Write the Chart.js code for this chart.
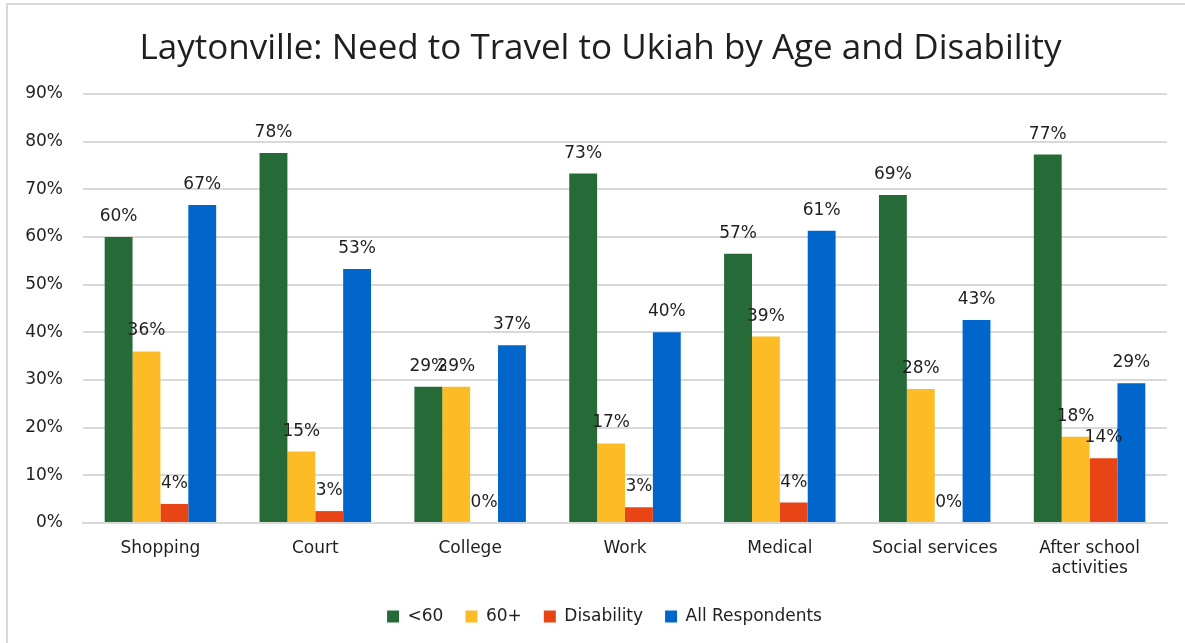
<!DOCTYPE html>
<html>
<head>
<meta charset="utf-8">
<script src="https://cdn.jsdelivr.net/npm/chart.js@4"></script>
<style>
  html, body { margin: 0; padding: 0; background: #fff; }
  #wrap { position: relative; width: 1185px; height: 643px; overflow: hidden; }
  #frame { position: absolute; left: 6px; top: 3px; right: 0; bottom: 0;
           border-top: 2px solid #d9d9d9; border-left: 2px solid #d9d9d9; }
  canvas { position: absolute; left: 0; top: 0; }
</style>
</head>
<body>
<div id="wrap">
  <div id="frame"></div>
  <canvas id="myChart" width="1185" height="643"></canvas>
</div>
<script>
const places = ["Shopping", "Court", "College", "Work", "Medical", "Social services", ["After school", "activities"]];
const under60 = [60.0, 77.6, 28.6, 73.3, 56.5, 68.8, 77.3];
const over60 = [36.0, 15.0, 28.6, 16.7, 39.1, 28.1, 18.1];
const disability = [4.0, 2.5, 0, 3.3, 4.3, 0, 13.6];
const allResp = [66.7, 53.3, 37.3, 40.0, 61.3, 42.6, 29.3];
const yTicks = [0, 10, 20, 30, 40, 50, 60, 70, 80, 90];

const txt = "#1f1f1f";
const font = "'DejaVu Sans', Verdana, sans-serif";

// percent labels above each bar
const barLabels = {
  id: "barLabels",
  afterDatasetsDraw(chart) {
    const ctx = chart.ctx;
    ctx.save();
    ctx.font = "17px " + font;
    ctx.fillStyle = txt;
    ctx.textAlign = "center";
    ctx.textBaseline = "alphabetic";
    chart.data.datasets.forEach((ds, i) => {
      chart.getDatasetMeta(i).data.forEach((bar, j) => {
        ctx.fillText(Math.round(ds.data[j]) + "%", bar.x, bar.y - 16);
      });
    });
    ctx.restore();
  }
};

// nudge title and legend a little to the right of the canvas centre
const blockShift = {
  id: "blockShift",
  afterLayout(chart) {
    chart.legend.left += 17;
    chart.legend.right += 17;
    chart.titleBlock.left += 13;
    chart.titleBlock.right += 13;
  }
};

let config = {
  type: "bar",
  data: {
    labels: places,
    datasets: [
      { label: "<60", data: under60, backgroundColor: "#256a37" },
      { label: "60+", data: over60, backgroundColor: "#fdbc25" },
      { label: "Disability", data: disability, backgroundColor: "#e84416" },
      { label: "All Respondents", data: allResp, backgroundColor: "#0066cc" }
    ]
  },
  options: {
    responsive: false,
    animation: false,
    categoryPercentage: 0.72,
    barPercentage: 1,
    layout: { padding: { left: 8, right: 18, top: 0, bottom: 8 } },
    plugins: {
      legend: {
        position: "bottom",
        labels: {
          font: { family: font, size: 17 },
          color: txt,
          boxWidth: 12,
          boxHeight: 12,
          padding: 22
        }
      },
      title: {
        display: true,
        text: "Laytonville: Need to Travel to Ukiah by Age and Disability",
        color: txt,
        font: { family: "'Open Sans', Lato, sans-serif", size: 35, weight: "normal" },
        padding: { top: 28, bottom: 24 }
      },
      tooltip: { enabled: false }
    },
    scales: {
      x: {
        grid: { display: false },
        border: { color: "#d9d9d9", width: 2 },
        ticks: { color: txt, font: { family: font, size: 17 }, padding: 7, maxRotation: 0, autoSkip: false },
        afterFit(scale) { scale.height = 63; }
      },
      y: {
        min: 0,
        max: 90,
        afterBuildTicks(scale) { scale.ticks = yTicks.map(v => ({ value: v })); },
        ticks: { color: txt, font: { family: font, size: 17 }, padding: 20, callback: v => v + "%" },
        grid: { color: "#d9d9d9", lineWidth: 2, drawTicks: false },
        border: { display: false },
        afterFit(scale) { scale.width = 75; }
      }
    }
  },
  plugins: [barLabels, blockShift]
};

const ctx = document.getElementById("myChart").getContext("2d");
const myChart = new Chart(ctx, config);
</script>
</body>
</html>
